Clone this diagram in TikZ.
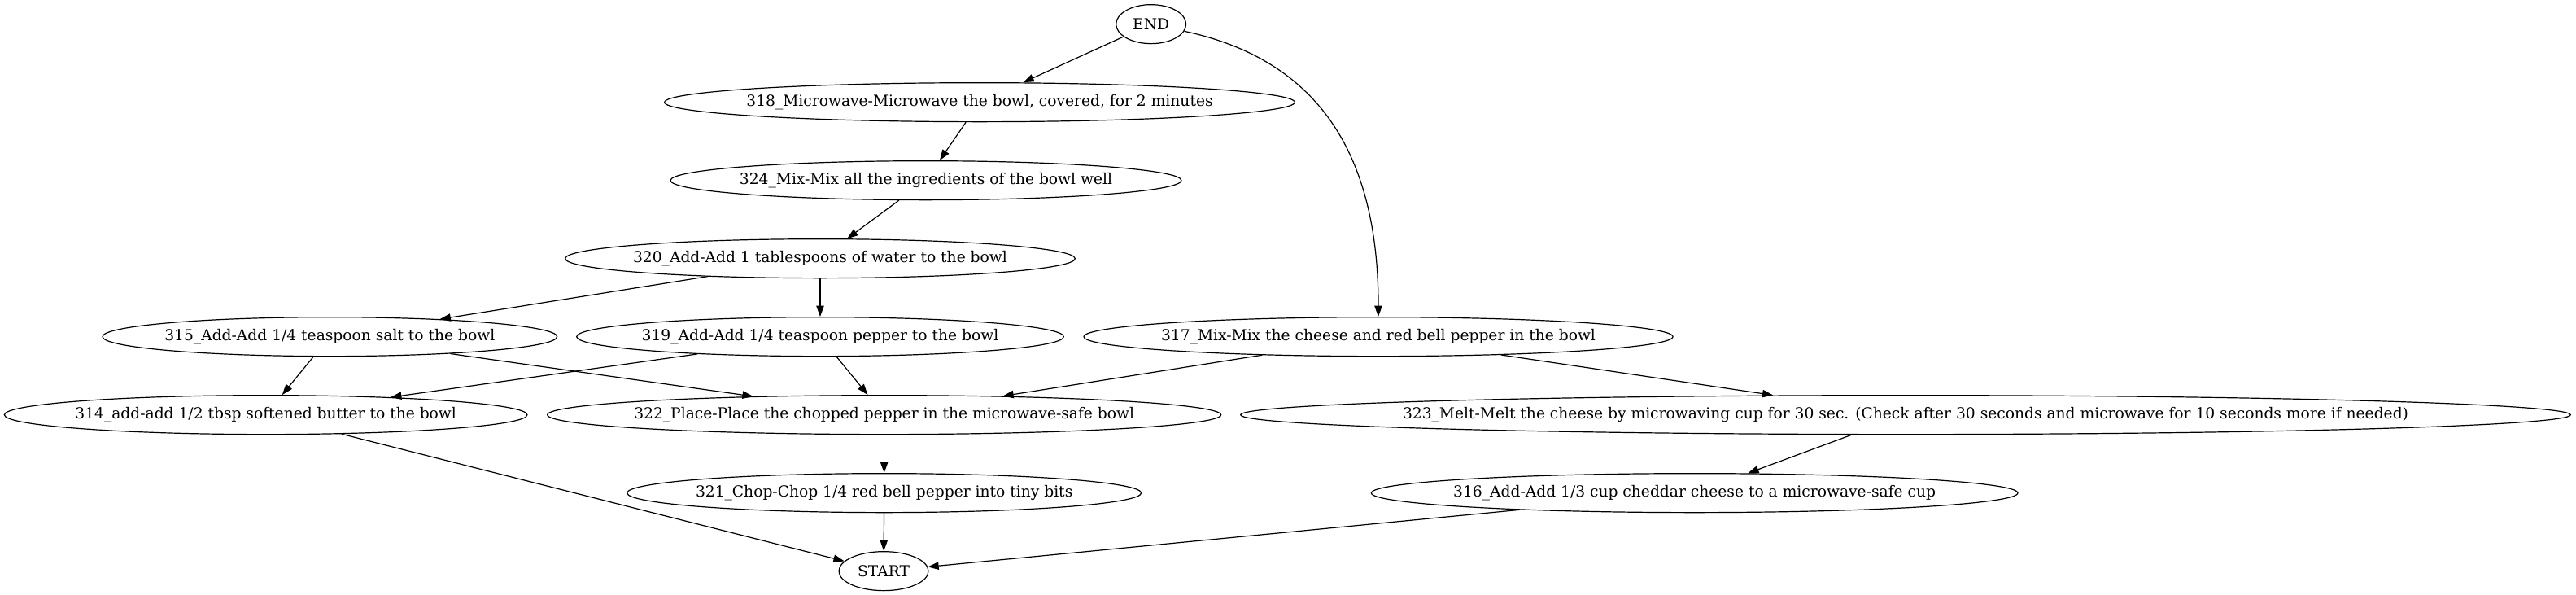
\documentclass[tikz,border=0pt]{standalone}
\usepackage{fontspec}
\setmainfont{DejaVu Serif}
\usetikzlibrary{positioning, arrows.meta, shapes.geometric}

\tikzset{
    task/.style={ellipse, draw=black, line width=0.9pt, inner xsep=0pt, inner ysep=2pt,
        minimum height=36pt, font=\fontsize{14pt}{16pt}\selectfont},
    flow/.style={draw=black, line width=0.9pt, -{Triangle[length=10pt, width=7pt]}}
}

\begin{document}
\begin{tikzpicture}
    \def\rankstep{72pt}
    \def\rankbase{22pt}
    \useasboundingbox (0pt, 0pt) rectangle (2374.5pt, 548.25pt);

    % nodes, one rank after another (name/x/rank/width/text)
    \foreach \name/\x/\r/\w/\txt in {
        end/1061/7/64.5/{END},
        s318/903/6/581/{318\_Microwave-Microwave the bowl, covered, for 2 minutes},
        s324/853.5/5/471/{324\_Mix-Mix all the ingredients of the bowl well},
        s320/756/4/470/{320\_Add-Add 1 tablespoons of water to the bowl},
        s315/304/3/419/{315\_Add-Add 1/4 teaspoon salt to the bowl},
        s319/756/3/449/{319\_Add-Add 1/4 teaspoon pepper to the bowl},
        s317/1270.5/3/543/{317\_Mix-Mix the cheese and red bell pepper in the bowl},
        s314/245/2/482/{314\_add-add 1/2 tbsp softened butter to the bowl},
        s322/815/2/621/{322\_Place-Place the chopped pepper in the microwave-safe bowl},
        s323/1756.5/2/1226/{323\_Melt-Melt the cheese by microwaving cup for 30 sec. (Check after 30 seconds and microwave for 10 seconds more if needed)},
        s321/815/1/474/{321\_Chop-Chop 1/4 red bell pepper into tiny bits},
        s316/1562/1/596/{316\_Add-Add 1/3 cup cheddar cheese to a microwave-safe cup},
        start/814.5/0/82.5/{START}}{

        \node[task, minimum width=\w pt] (\name) at (\x pt, \rankbase + \r * \rankstep) {\makebox[0pt]{\txt}};
    }

    % straight edges
    \foreach \a/\b in {
        end/s318, s318/s324, s324/s320, s320/s315, s320/s319,
        s315/s314, s315/s322, s319/s314, s319/s322,
        s317/s322, s317/s323, s322/s321, s323/s316,
        s321/start, s314/start, s316/start}{

        \draw[flow] (\a) -- (\b);
    }

    % the one bent edge
    \draw[flow] (end) to[out=-12, in=90, looseness=1.1] (s317);
\end{tikzpicture}
\end{document}
